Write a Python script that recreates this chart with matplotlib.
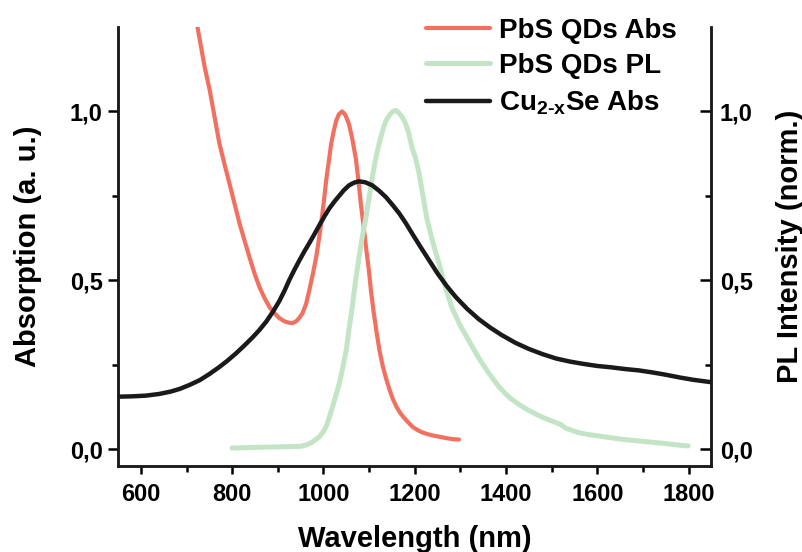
import matplotlib
matplotlib.use("Agg")
import matplotlib.pyplot as plt
from matplotlib.ticker import MultipleLocator, FixedLocator

plt.rcParams['font.family'] = ['Liberation Sans', 'DejaVu Sans']
plt.rcParams['font.weight'] = 'bold'
plt.rcParams['mathtext.fontset'] = 'custom'
plt.rcParams['mathtext.rm'] = 'Liberation Sans:bold'
plt.rcParams['mathtext.bf'] = 'Liberation Sans:bold'
plt.rcParams['mathtext.it'] = 'Liberation Sans:bold'
plt.rcParams['mathtext.default'] = 'bf'

# PbS QDs absorption (left axis)
pbs_abs_nm = [700, 724, 740, 751, 762, 772, 783, 794, 805, 816, 827, 838, 849, 860, 871,
              882, 893, 903, 915, 925, 932, 940, 948, 954, 962, 969, 977, 984, 990, 995,
              1001, 1006, 1012, 1017, 1023, 1028, 1034, 1041, 1048, 1056, 1063, 1071,
              1077, 1082, 1088, 1093, 1099, 1104, 1110, 1117, 1123, 1130, 1138, 1145,
              1152, 1160, 1168, 1175, 1185, 1195, 1205, 1215, 1228, 1240, 1255, 1270,
              1285, 1297]
pbs_abs_val = [1.45, 1.25, 1.13, 1.062, 0.98, 0.905, 0.845, 0.787, 0.728, 0.669, 0.618,
               0.568, 0.52, 0.479, 0.447, 0.42, 0.402, 0.388, 0.378, 0.374, 0.373, 0.378,
               0.39, 0.402, 0.43, 0.47, 0.52, 0.568, 0.62, 0.669, 0.735, 0.796, 0.855,
               0.905, 0.945, 0.973, 0.992, 1.0, 0.99, 0.962, 0.92, 0.86, 0.79, 0.725,
               0.66, 0.6, 0.535, 0.47, 0.405, 0.34, 0.29, 0.245, 0.205, 0.175, 0.148,
               0.125, 0.107, 0.095, 0.08, 0.066, 0.057, 0.05, 0.044, 0.04, 0.036, 0.032,
               0.029, 0.028]

# PbS QDs photoluminescence (right axis)
pbs_pl_nm = [800, 830, 860, 890, 920, 950, 962, 975, 985, 991, 1000, 1007, 1013, 1020,
             1027, 1035, 1042, 1050, 1056, 1063, 1070, 1078, 1085, 1093, 1100, 1107, 1114,
             1122, 1130, 1137, 1145, 1152, 1159, 1166, 1173, 1180, 1187, 1194, 1201, 1209,
             1218, 1227, 1240, 1253, 1267, 1281, 1300, 1318, 1340, 1362, 1384, 1406, 1428,
             1449, 1470, 1490, 1510, 1521, 1530, 1545, 1560, 1580, 1600, 1631, 1660, 1690,
             1720, 1750, 1775, 1799]
pbs_pl_val = [0.003, 0.004, 0.005, 0.006, 0.007, 0.008, 0.012, 0.02, 0.03, 0.036, 0.052,
              0.07, 0.095, 0.125, 0.158, 0.195, 0.24, 0.293, 0.355, 0.42, 0.495, 0.568,
              0.628, 0.686, 0.745, 0.805, 0.857, 0.905, 0.945, 0.973, 0.99, 1.0, 1.003,
              0.995, 0.982, 0.964, 0.935, 0.893, 0.865, 0.82, 0.75, 0.68, 0.61, 0.55,
              0.48, 0.42, 0.365, 0.322, 0.27, 0.225, 0.185, 0.154, 0.132, 0.115, 0.1,
              0.088, 0.078, 0.072, 0.062, 0.055, 0.048, 0.043, 0.039, 0.033, 0.028, 0.024,
              0.02, 0.016, 0.012, 0.009]

# Cu2-xSe absorption (left axis)
cuse_nm = [550, 580, 610, 640, 665, 685, 707, 729, 750, 772, 790, 809, 827, 845, 860,
           875, 890, 904, 915, 925, 936, 947, 958, 969, 980, 991, 1002, 1013, 1024, 1035,
           1045, 1056, 1067, 1078, 1092, 1107, 1122, 1137, 1152, 1166, 1180, 1194, 1212,
           1231, 1250, 1270, 1290, 1315, 1340, 1365, 1390, 1420, 1449, 1480, 1510, 1540,
           1570, 1600, 1630, 1660, 1690, 1720, 1750, 1780, 1810, 1849]
cuse_val = [0.155, 0.156, 0.158, 0.163, 0.17, 0.178, 0.19, 0.204, 0.222, 0.243, 0.262,
            0.284, 0.307, 0.331, 0.353, 0.378, 0.408, 0.44, 0.47, 0.5, 0.53, 0.558,
            0.585, 0.61, 0.636, 0.663, 0.689, 0.713, 0.733, 0.751, 0.767, 0.781, 0.789,
            0.793, 0.79, 0.781, 0.765, 0.746, 0.722, 0.698, 0.67, 0.639, 0.6, 0.56, 0.52,
            0.483, 0.45, 0.415, 0.385, 0.36, 0.338, 0.315, 0.297, 0.281, 0.268, 0.259,
            0.252, 0.246, 0.242, 0.237, 0.233, 0.227, 0.22, 0.212, 0.205, 0.198]

x_ticks = [600, 800, 1000, 1200, 1400, 1600, 1800]
y_ticks = [0.0, 0.5, 1.0]
y_ticklabels = ['0,0', '0,5', '1,0']

labels = ['PbS QDs Abs', 'PbS QDs PL', r'Cu$_{\mathbf{2\text{-}x}}$Se Abs']
colors = ['#F2705F', '#C3E5C6', '#1a1a1a']

fig = plt.figure(figsize=(8.03, 5.52), dpi=100)
ax = fig.add_axes([0.147, 0.156, 0.739, 0.795])

l1, = ax.plot(pbs_abs_nm, pbs_abs_val, color=colors[0], lw=3.0, solid_capstyle='round',
              solid_joinstyle='round', label=labels[0])
l2, = ax.plot(pbs_pl_nm, pbs_pl_val, color=colors[1], lw=3.6, solid_capstyle='round',
              solid_joinstyle='round', label=labels[1])
l3, = ax.plot(cuse_nm, cuse_val, color=colors[2], lw=3.2, solid_capstyle='round',
              solid_joinstyle='round', label=labels[2])

ax.set_xlim(550, 1850)
ax.set_ylim(-0.05, 1.25)
ax2 = ax.twinx()
ax2.set_ylim(-0.05, 1.25)

ax.set_xticks(x_ticks)
ax.xaxis.set_minor_locator(MultipleLocator(100))
for a in (ax, ax2):
    a.set_yticks(y_ticks)
    a.set_yticklabels(y_ticklabels)
    a.yaxis.set_minor_locator(FixedLocator([0.25, 0.75]))

for a in (ax, ax2):
    for s in a.spines.values():
        s.set_linewidth(1.8)
        s.set_color('#1a1a1a')
    a.spines['top'].set_visible(False)

ax.tick_params(axis='x', which='major', direction='out', length=6, width=1.8,
               labelsize=17, pad=6)
ax.tick_params(axis='x', which='minor', direction='out', length=4, width=1.8)
ax.tick_params(axis='y', which='major', direction='out', length=7, width=1.8,
               labelsize=17, pad=4)
ax.tick_params(axis='y', which='minor', direction='out', length=4, width=1.8)
ax2.tick_params(axis='y', which='major', direction='in', length=8, width=1.8,
                labelsize=17, pad=6)
ax2.tick_params(axis='y', which='minor', direction='in', length=4, width=1.8)

ax.set_xlabel('Wavelength (nm)', fontsize=21, fontweight='bold', labelpad=14)
ax.set_ylabel('Absorption (a. u.)', fontsize=21, fontweight='bold', labelpad=20)
ax2.set_ylabel('PL Intensity (norm.)', fontsize=21, fontweight='bold', labelpad=17)

fig.legend(handles=[l1, l2, l3], labels=labels, loc='upper left',
           bbox_to_anchor=(0.531, 0.968), frameon=False, fontsize=20,
           handlelength=2.3, handletextpad=0.3, labelspacing=0.34, borderpad=0,
           borderaxespad=0)

fig.savefig('out.png', dpi=100)
